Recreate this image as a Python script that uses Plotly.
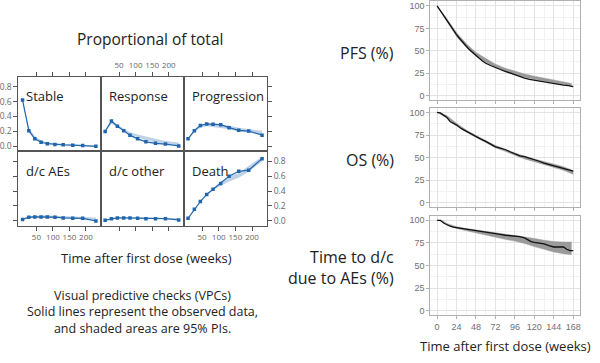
import plotly.graph_objects as go

# ---------------- VPC (lattice-style) data ----------------
vpc_times = [8, 27, 45, 64, 83, 106, 131, 160, 190, 230]
panel_names = ["Stable", "Response", "Progression", "d/c AEs", "d/c other", "Death"]

stable_obs = [0.62, 0.21, 0.10, 0.055, 0.035, 0.025, 0.02, 0.015, 0.01, 0.0]
stable_lo = [0.62, 0.20, 0.10, 0.06, 0.04, 0.025, 0.018, 0.012, 0.008, 0.003]
stable_hi = [0.62, 0.25, 0.14, 0.08, 0.055, 0.04, 0.032, 0.026, 0.02, 0.015]

response_obs = [0.20, 0.34, 0.27, 0.21, 0.15, 0.10, 0.06, 0.04, 0.03, 0.005]
response_lo = [0.20, 0.30, 0.26, 0.21, 0.16, 0.12, 0.08, 0.05, 0.03, 0.01]
response_hi = [0.20, 0.34, 0.29, 0.24, 0.19, 0.16, 0.13, 0.10, 0.07, 0.05]

progression_obs = [0.10, 0.21, 0.28, 0.30, 0.295, 0.29, 0.25, 0.215, 0.205, 0.15]
progression_lo = [0.10, 0.19, 0.25, 0.27, 0.26, 0.25, 0.23, 0.20, 0.18, 0.16]
progression_hi = [0.10, 0.23, 0.29, 0.31, 0.31, 0.30, 0.28, 0.25, 0.23, 0.21]

dcae_obs = [0.02, 0.05, 0.053, 0.053, 0.053, 0.05, 0.04, 0.035, 0.035, 0.0]
dcae_lo = [0.02, 0.04, 0.045, 0.045, 0.045, 0.04, 0.035, 0.03, 0.025, 0.015]
dcae_hi = [0.02, 0.06, 0.07, 0.075, 0.075, 0.07, 0.065, 0.06, 0.055, 0.045]

dcother_obs = [0.01, 0.03, 0.04, 0.04, 0.04, 0.035, 0.03, 0.03, 0.03, 0.013]
dcother_lo = [0.01, 0.025, 0.032, 0.034, 0.034, 0.032, 0.03, 0.027, 0.024, 0.02]
dcother_hi = [0.01, 0.035, 0.045, 0.048, 0.048, 0.046, 0.044, 0.042, 0.04, 0.035]

death_obs = [0.035, 0.155, 0.26, 0.355, 0.425, 0.50, 0.60, 0.665, 0.68, 0.835]
death_lo = [0.035, 0.15, 0.255, 0.35, 0.41, 0.47, 0.53, 0.58, 0.66, 0.80]
death_hi = [0.035, 0.16, 0.265, 0.365, 0.44, 0.52, 0.60, 0.64, 0.74, 0.86]

vpc_obs = [stable_obs, response_obs, progression_obs, dcae_obs, dcother_obs, death_obs]
vpc_lo = [stable_lo, response_lo, progression_lo, dcae_lo, dcother_lo, death_lo]
vpc_hi = [stable_hi, response_hi, progression_hi, dcae_hi, dcother_hi, death_hi]

vpc_xticks = [50, 100, 150, 200]
vpc_yticks = [0.0, 0.2, 0.4, 0.6, 0.8]

# ---------------- Kaplan-Meier VPC data ----------------
km_xticks = [0, 24, 48, 72, 96, 120, 144, 168]
km_yticks = [0, 25, 50, 75, 100]

pfs_t = [0, 3, 6, 9, 12, 15, 18, 21, 24, 27, 30, 33, 36, 40, 44, 48, 52, 56, 60, 66, 72, 78, 84,
         90, 96, 102, 108, 114, 120, 126, 132, 138, 144, 150, 156, 162, 168]
pfs_obs = [100, 96, 91, 87, 83, 79, 75, 71, 68, 64.5, 61, 58, 55, 51, 47.5, 44, 41.5, 38.5, 36, 33.5, 31,
           29, 27, 25, 23, 21.5, 19.5, 18, 17, 16, 15, 14, 13.5, 12.5, 11.5, 11, 10]
pfs_band_t = [0, 12, 24, 36, 48, 60, 72, 84, 96, 108, 120, 132, 144, 156, 166]
pfs_lo = [100, 83, 66, 54, 44, 37, 31.5, 27, 23.5, 20.5, 18, 16, 14, 12, 10.5]
pfs_hi = [100, 86, 70, 58, 48, 41, 35, 30.5, 27, 24, 21.5, 19.5, 18, 16, 13.5]

os_t = [0, 4, 8, 12, 16, 20, 24, 30, 36, 42, 48, 54, 60, 66, 72, 78, 84, 90, 96, 102, 108, 114, 120,
        126, 132, 138, 144, 150, 156, 162, 168]
os_obs = [100, 99.5, 97, 94.5, 90, 88, 86, 82, 79, 76, 73, 70.5, 68, 65, 62, 60.5, 59, 56.5, 54, 52, 51,
          49.5, 48, 46, 44, 42.5, 41, 40, 38.5, 37, 35]
os_band_t = [0, 12, 24, 36, 48, 60, 72, 84, 96, 108, 120, 132, 144, 156, 168]
os_lo = [100, 94, 85.5, 78.5, 72.5, 66.5, 61, 57, 52.5, 48.5, 45.5, 42.5, 39.5, 36, 31.5]
os_hi = [100, 96.5, 88, 80.5, 74.5, 69, 63.5, 59, 55, 51.5, 48.5, 45.5, 43, 40, 35.5]

ae_t = [0, 4, 8, 12, 16, 20, 24, 30, 36, 42, 48, 54, 60, 66, 72, 78, 84, 90, 96, 102, 108, 112, 116,
        120, 126, 132, 138, 144, 150, 156, 160, 164, 168]
ae_obs = [100, 100, 97, 95, 93.5, 92.5, 92, 91, 90.5, 89.5, 89, 88, 87, 86, 85.5, 84.5, 83.5, 83, 83,
          82, 80.5, 78, 76.5, 75.5, 74.5, 74, 72, 70.5, 70.5, 70.5, 68, 66.5, 66.5]
ae_band_t = [0, 6, 12, 24, 36, 48, 60, 72, 84, 96, 108, 120, 132, 144, 156, 166]
ae_lo = [100, 99, 95, 91, 88.5, 86, 84, 81.5, 79, 77, 74.5, 71, 68, 65, 63, 62]
ae_hi = [100, 100, 96.5, 93, 91, 89.5, 88, 86.5, 85, 83.5, 82, 80, 78, 76.5, 76, 76]

km_titles = ["PFS (%)", "OS (%)", "Time to d/c<br>due to AEs (%)"]
km_obs_t = [pfs_t, os_t, ae_t]
km_obs = [pfs_obs, os_obs, ae_obs]
km_band_t = [pfs_band_t, os_band_t, ae_band_t]
km_lo = [pfs_lo, os_lo, ae_lo]
km_hi = [pfs_hi, os_hi, ae_hi]

# ---------------- layout geometry (pixels) ----------------
W, H = 600, 363
def px(x):
    return x / W
def py(y):
    return 1 - y / H

col_px = [(18.3, 101.0), (101.0, 184.0), (184.0, 267.5)]
row_px = [(76.0, 151.0), (151.0, 226.0)]
km_x_px = (431.0, 581.0)
km_rows_px = [(0.5, 99.5), (107.5, 207.5), (216.0, 316.0)]

FONT = "Open Sans"
BLUE = "#2166ac"
BAND = "rgba(110,155,205,0.45)"
BORDER = "#555555"

fig = go.Figure()
layout = dict(
    width=W, height=H, margin=dict(l=0, r=0, t=0, b=0),
    paper_bgcolor="white", plot_bgcolor="white", showlegend=False,
    font=dict(family=FONT, color="#222222"),
)
annotations = []

for i in range(6):
    r, c = divmod(i, 3)
    ax = i + 1
    xa = "x" if ax == 1 else f"x{ax}"
    ya = "y" if ax == 1 else f"y{ax}"
    fig.add_trace(go.Scatter(x=vpc_times, y=vpc_lo[i], mode="lines", line=dict(width=0, color=BAND),
                             xaxis=xa, yaxis=ya, hoverinfo="skip"))
    fig.add_trace(go.Scatter(x=vpc_times, y=vpc_hi[i], mode="lines", line=dict(width=0, color=BAND),
                             fill="tonexty", fillcolor=BAND, xaxis=xa, yaxis=ya, hoverinfo="skip"))
    fig.add_trace(go.Scatter(x=vpc_times, y=vpc_obs[i], mode="lines+markers",
                             line=dict(color=BLUE, width=1.2), marker=dict(color=BLUE, size=3.5, symbol="square"),
                             xaxis=xa, yaxis=ya))
    x0, x1 = col_px[c]
    y0, y1 = row_px[r]
    xshow = (r == 0 and c == 1) or (r == 1 and c in (0, 2))
    layout[f"xaxis{ax}"] = dict(
        domain=[px(x0), px(x1)], anchor=ya, range=[-5, 245], tickvals=vpc_xticks, tickangle=0,
        side="top" if r == 0 else "bottom", showgrid=False, zeroline=False,
        showline=True, mirror=True, linecolor=BORDER, linewidth=1,
        ticks="outside", ticklen=4, tickcolor=BORDER, showticklabels=xshow,
        tickfont=dict(size=8, color="#666666", family=FONT),
    )
    if c == 0:
        yside, yticks, yshow = "left", "outside", (r == 0)
    elif c == 2:
        yside, yticks, yshow = "right", "outside", (r == 1)
    else:
        yside, yticks, yshow = "left", "", False
    layout[f"yaxis{ax}"] = dict(
        domain=[py(y1), py(y0)], anchor=xa, range=[-0.065, 0.935], tickvals=vpc_yticks,
        tickformat=".1f", side=yside, showgrid=False, zeroline=False,
        showline=True, mirror=True, linecolor=BORDER, linewidth=1,
        ticks=yticks, ticklen=4, tickcolor=BORDER, showticklabels=yshow,
        tickfont=dict(size=8.5, color="#666666", family=FONT),
    )
    annotations.append(dict(text=panel_names[i], xref="paper", yref="paper",
                            x=px(x0 + 6), y=py(y0 + 20), xanchor="left", yanchor="middle",
                            showarrow=False, font=dict(size=13, color="#222222", family=FONT)))

for k in range(3):
    ax = 7 + k
    xa, ya = f"x{ax}", f"y{ax}"
    fig.add_trace(go.Scatter(x=km_band_t[k], y=km_lo[k], mode="lines", line=dict(width=0.5, color="#9a9a9a"),
                             xaxis=xa, yaxis=ya, hoverinfo="skip"))
    fig.add_trace(go.Scatter(x=km_band_t[k], y=km_hi[k], mode="lines", line=dict(width=0.5, color="#9a9a9a"),
                             fill="tonexty", fillcolor="#9a9a9a", xaxis=xa, yaxis=ya, hoverinfo="skip"))
    fig.add_trace(go.Scatter(x=km_obs_t[k], y=km_obs[k], mode="lines", line=dict(color="#111111", width=1.3),
                             xaxis=xa, yaxis=ya))
    y0, y1 = km_rows_px[k]
    layout[f"xaxis{ax}"] = dict(
        domain=[px(km_x_px[0]), px(km_x_px[1])], anchor=ya, range=[-8.4, 176.4], tickvals=km_xticks,
        showgrid=True, gridcolor="#e3e3e3", gridwidth=0.6, zeroline=False,
        minor=dict(tickvals=[12, 36, 60, 84, 108, 132, 156], showgrid=True, gridcolor="#f2f2f2", gridwidth=0.5),
        showline=True, mirror=True, linecolor="#b0b0b0", linewidth=1,
        ticks="outside", ticklen=3, tickcolor="#b0b0b0", showticklabels=(k == 2), tickangle=0,
        tickfont=dict(size=9, color="#707070", family="Liberation Sans"),
    )
    layout[f"yaxis{ax}"] = dict(
        domain=[py(y1), py(y0)], anchor=xa, range=[-5, 105], tickvals=km_yticks,
        showgrid=True, gridcolor="#e3e3e3", gridwidth=0.6, zeroline=False,
        minor=dict(tickvals=[12.5, 37.5, 62.5, 87.5], showgrid=True, gridcolor="#f2f2f2", gridwidth=0.5),
        showline=True, mirror=True, linecolor="#b0b0b0", linewidth=1,
        ticks="outside", ticklen=3, tickcolor="#b0b0b0",
        tickfont=dict(size=9, color="#707070", family="Liberation Sans"),
    )
    annotations.append(dict(text=km_titles[k], xref="paper", yref="paper",
                            x=px(397), y=py((y0 + y1) / 2 + 2), xanchor="right", yanchor="middle", align="right",
                            showarrow=False, font=dict(size=16, color="#222222", family=FONT)))

annotations += [
    dict(text="Proportional of total", xref="paper", yref="paper", x=px(150), y=py(38),
         xanchor="center", yanchor="middle", showarrow=False, font=dict(size=15.5, family=FONT, color="#222222")),
    dict(text="Time after first dose (weeks)", xref="paper", yref="paper", x=px(147), y=py(258),
         xanchor="center", yanchor="middle", showarrow=False, font=dict(size=13, family=FONT, color="#222222")),
    dict(text="Time after first dose (weeks)", xref="paper", yref="paper", x=px(506), y=py(347),
         xanchor="center", yanchor="middle", showarrow=False, font=dict(size=13, family=FONT, color="#222222")),
    dict(text="Visual predictive checks (VPCs)<br>Solid lines represent the observed data,<br>and shaded areas are 95% PIs.",
         xref="paper", yref="paper", x=px(143), y=py(313), xanchor="center", yanchor="middle", align="center",
         showarrow=False, font=dict(size=12.5, family=FONT, color="#222222")),
]
layout["annotations"] = annotations
fig.update_layout(**layout)
fig.write_html("out.html")
